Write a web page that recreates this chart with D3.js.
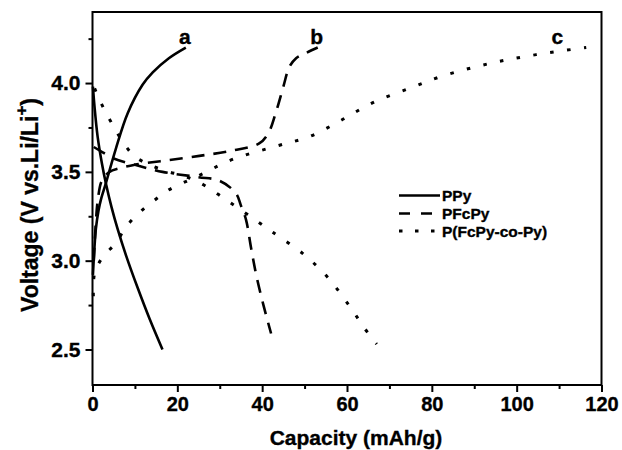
<!DOCTYPE html>
<html><head><meta charset="utf-8">
<script src="https://cdn.jsdelivr.net/npm/d3@7"></script>
<style>
html,body{margin:0;padding:0;background:#fff;}
svg{display:block;font-family:"Liberation Sans",Arial,sans-serif;font-weight:bold;}
svg text{stroke:#000;stroke-width:0.35px;}
</style></head>
<body>
<svg id="chart" width="622" height="450"></svg>
<script>
// ---- data (capacity mAh/g, voltage V) ----
const ppyCharge = [[0.1,2.92],[0.4,3.05],[0.8,3.18],[1.4,3.28],[2.0,3.345],[3.2,3.44],[5.5,3.63],[8.3,3.83],[11.8,3.99],[14.2,4.06],[18,4.14],[22,4.2]];
const ppyDischarge = [[0.1,3.98],[0.5,3.86],[1.2,3.70],[2.2,3.55],[3.2,3.43],[4.5,3.30],[5.9,3.18],[7.9,3.03],[10.6,2.85],[13.5,2.67],[16.5,2.5]];
const pfcCharge = [[0.3,3.0],[0.8,3.22],[1.3,3.35],[2.2,3.45],[4,3.5],[6.3,3.52],[10,3.54],[16,3.56],[25.2,3.59],[33,3.62],[39.3,3.66],[41.5,3.72],[43.3,3.84],[45,3.98],[46.4,4.09],[48,4.14],[50.4,4.17],[53.1,4.2]];
const pfcDischarge = [[0.3,3.64],[2.4,3.61],[5,3.575],[10,3.54],[16.5,3.50],[25,3.47],[29.9,3.45],[33.8,3.38],[35,3.31],[36.2,3.23],[37.4,3.07],[38.6,2.92],[40.3,2.75],[42.1,2.59]];
const copCharge = [[0.2,2.8],[0.5,2.93],[2.4,3.02],[5.5,3.10],[7.9,3.19],[11,3.27],[14.6,3.34],[18.1,3.40],[25.2,3.48],[33,3.57],[44.1,3.65],[51.3,3.70],[58.6,3.79],[66.1,3.89],[74.7,3.97],[82.6,4.04],[93.6,4.11],[104.6,4.16],[116.4,4.2]];
const copDischarge = [[0.5,3.97],[1.2,3.93],[2.8,3.85],[5.1,3.75],[7.1,3.67],[9.8,3.59],[13.4,3.54],[18,3.50],[21.2,3.48],[25.2,3.44],[32.3,3.33],[38.9,3.22],[42.5,3.16],[49.6,3.04],[53.3,2.96],[56.4,2.88],[59.2,2.79],[61.6,2.71],[64.1,2.62],[67,2.53]];

const seriesNames = ["PPy","PFcPy","P(FcPy-co-Py)"];
const curveLabels = [["a",22,4.2],["b",53.1,4.2],["c",116.4,4.2]];
const xTicks = [0,20,40,60,80,100,120];
const xMinor = [10,30,50,70,90,110];
const yTicks = [2.5,3.0,3.5,4.0];
const yMinor = [2.75,3.25,3.75,4.25];

const svg = d3.select("#chart");
const L=92.5, R=601.5, T=12, B=385;
const x = d3.scaleLinear().domain([0,120]).range([L,R]);
const y = d3.scaleLinear().domain([2.3,4.4]).range([B,T]);

const styles = [
  {w:2.6, dash:null},
  {w:2.6, dash:"13,9"},
  {w:3, dash:"3.5,13.5"}
];

// frame
svg.append("rect").attr("x",L).attr("y",T).attr("width",R-L).attr("height",B-T)
  .attr("fill","none").attr("stroke","#000").attr("stroke-width",2);

// x axis
const xAxis = d3.axisBottom(x).tickValues(xTicks).tickFormat(d3.format("d")).tickSize(7).tickPadding(5);
const gx = svg.append("g").attr("transform",`translate(0,${B})`).call(xAxis);
gx.select(".domain").remove();
gx.selectAll("line").attr("stroke-width",2);
gx.selectAll("text").attr("font-size",20).attr("font-family","Liberation Sans, Arial").attr("font-weight","bold").attr("fill","#000");
const xAxisMinor = d3.axisBottom(x).tickValues(xMinor).tickFormat("").tickSize(4);
const gxm = svg.append("g").attr("transform",`translate(0,${B})`).call(xAxisMinor);
gxm.select(".domain").remove();
gxm.selectAll("line").attr("stroke-width",2);

// y axis
const yAxis = d3.axisLeft(y).tickValues(yTicks).tickFormat(d3.format(".1f")).tickSize(7).tickPadding(5);
const gy = svg.append("g").attr("transform",`translate(${L},0)`).call(yAxis);
gy.select(".domain").remove();
gy.selectAll("line").attr("stroke-width",2);
gy.selectAll("text").attr("font-size",21).attr("font-family","Liberation Sans, Arial").attr("font-weight","bold").attr("fill","#000");
const yAxisMinor = d3.axisLeft(y).tickValues(yMinor).tickFormat("").tickSize(4);
const gym = svg.append("g").attr("transform",`translate(${L},0)`).call(yAxisMinor);
gym.select(".domain").remove();
gym.selectAll("line").attr("stroke-width",2);

// curves
const line = d3.line().x(d=>x(d[0])).y(d=>y(d[1])).curve(d3.curveCatmullRom.alpha(0.5));
const curves = [[ppyCharge,0],[ppyDischarge,0],[pfcCharge,1],[pfcDischarge,1],[copCharge,2],[copDischarge,2]];
const plot = svg.append("g");
curves.forEach(([data,s])=>{
  plot.append("path").attr("d",line(data)).attr("fill","none").attr("stroke","#000")
    .attr("stroke-width",styles[s].w).attr("stroke-dasharray",styles[s].dash);
});

// curve labels
curveLabels.forEach(([t,cx,cy],i)=>{
  svg.append("text").attr("x",x(cx)+(i===2?-29:-1)).attr("y",y(cy)-4)
    .attr("text-anchor","middle").attr("font-size",21).text(t);
});

// legend
const lgX0=399, lgX1=440, lgY=[195.5,213.5,231];
seriesNames.forEach((n,i)=>{
  svg.append("line").attr("x1",lgX0).attr("x2",lgX1).attr("y1",lgY[i]).attr("y2",lgY[i])
    .attr("stroke","#000").attr("stroke-width",styles[i].w)
    .attr("stroke-dasharray", i===1?"11,11":(i===2?"3.5,12.5":null));
  svg.append("text").attr("x",442).attr("y",lgY[i]+5.5).attr("font-size",15.5).text(n);
});

// axis titles
svg.append("text").attr("x",356).attr("y",445).attr("text-anchor","middle").attr("font-size",21)
  .text("Capacity (mAh/g)");
const yt = svg.append("text").attr("transform","translate(38,312) rotate(-90)").attr("text-anchor","start").attr("font-size",23);
yt.append("tspan").text("Voltage (V vs.Li/Li");
yt.append("tspan").attr("font-size",17).attr("dy",-11).text("+");
yt.append("tspan").attr("dy",11).text(")");
</script>
</body></html>
